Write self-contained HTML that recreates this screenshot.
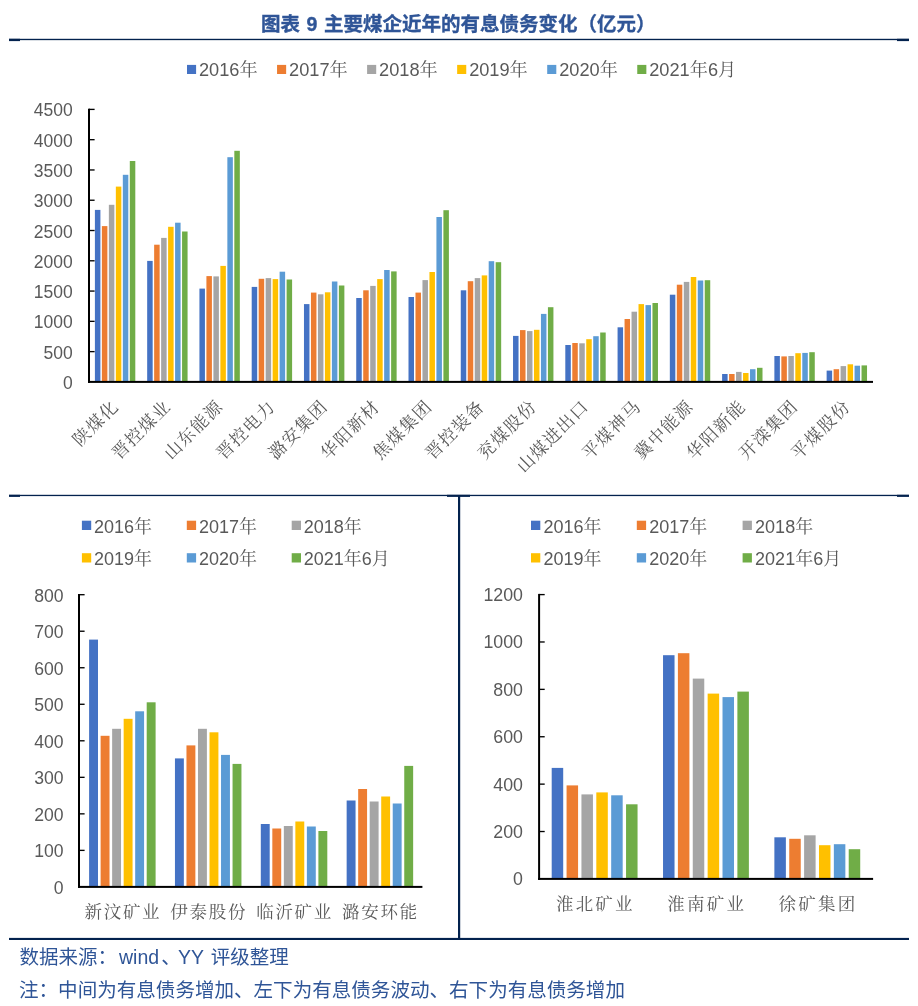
<!DOCTYPE html>
<html lang="zh-CN"><head><meta charset="utf-8"><title>图表 9</title>
<style>
html,body{margin:0;padding:0;background:#fff;}
body{width:918px;height:1006px;position:relative;overflow:hidden;font-family:'Liberation Sans','Noto Sans CJK SC',sans-serif;}
.t{position:absolute;white-space:nowrap;color:#2F5597;font-size:19.5px;line-height:24px;}
#title{left:261px;top:12px;font-weight:bold;-webkit-text-stroke:0.35px #2F5597;}
#title .n{display:inline-block;width:24px;text-align:center;}
#src{left:19.5px;top:945.4px;}
#note{left:19px;top:978.4px;font-size:19.56px;}
svg{position:absolute;left:0;top:0;}
</style></head><body>
<svg width="918" height="1006" viewBox="0 0 918 1006">
<rect x="9" y="38.8" width="900" height="1.35" fill="#03224E"/>
<rect x="9" y="38.8" width="11" height="2.3" fill="#03224E"/>
<rect x="897" y="38.8" width="12" height="2.3" fill="#03224E"/>
<rect x="9" y="494.8" width="900" height="1.3" fill="#03224E"/>
<rect x="447" y="494.8" width="23" height="2.1" fill="#03224E"/>
<rect x="9" y="494.8" width="11" height="2.1" fill="#03224E"/>
<rect x="897" y="494.8" width="12" height="2.1" fill="#03224E"/>
<rect x="458" y="495" width="2.2" height="444" fill="#03224E"/>
<rect x="9" y="937.9" width="900" height="2.1" fill="#03224E"/>
<rect x="94.90" y="209.90" width="5.50" height="172.00" fill="#4472C4"/>
<rect x="101.88" y="226.10" width="5.50" height="155.80" fill="#ED7D31"/>
<rect x="108.86" y="204.80" width="5.50" height="177.10" fill="#A5A5A5"/>
<rect x="115.84" y="186.60" width="5.50" height="195.30" fill="#FFC000"/>
<rect x="122.82" y="174.80" width="5.50" height="207.10" fill="#5B9BD5"/>
<rect x="129.80" y="161.00" width="5.50" height="220.90" fill="#70AD47"/>
<rect x="147.17" y="260.90" width="5.50" height="121.00" fill="#4472C4"/>
<rect x="154.15" y="244.70" width="5.50" height="137.20" fill="#ED7D31"/>
<rect x="161.13" y="237.90" width="5.50" height="144.00" fill="#A5A5A5"/>
<rect x="168.11" y="226.80" width="5.50" height="155.10" fill="#FFC000"/>
<rect x="175.09" y="222.70" width="5.50" height="159.20" fill="#5B9BD5"/>
<rect x="182.07" y="231.50" width="5.50" height="150.40" fill="#70AD47"/>
<rect x="199.43" y="288.60" width="5.50" height="93.30" fill="#4472C4"/>
<rect x="206.41" y="276.10" width="5.50" height="105.80" fill="#ED7D31"/>
<rect x="213.39" y="276.40" width="5.50" height="105.50" fill="#A5A5A5"/>
<rect x="220.37" y="265.90" width="5.50" height="116.00" fill="#FFC000"/>
<rect x="227.35" y="157.20" width="5.50" height="224.70" fill="#5B9BD5"/>
<rect x="234.33" y="150.80" width="5.50" height="231.10" fill="#70AD47"/>
<rect x="251.70" y="286.90" width="5.50" height="95.00" fill="#4472C4"/>
<rect x="258.68" y="278.80" width="5.50" height="103.10" fill="#ED7D31"/>
<rect x="265.66" y="278.10" width="5.50" height="103.80" fill="#A5A5A5"/>
<rect x="272.64" y="279.10" width="5.50" height="102.80" fill="#FFC000"/>
<rect x="279.62" y="271.70" width="5.50" height="110.20" fill="#5B9BD5"/>
<rect x="286.60" y="279.50" width="5.50" height="102.40" fill="#70AD47"/>
<rect x="303.97" y="304.10" width="5.50" height="77.80" fill="#4472C4"/>
<rect x="310.95" y="292.60" width="5.50" height="89.30" fill="#ED7D31"/>
<rect x="317.93" y="294.30" width="5.50" height="87.60" fill="#A5A5A5"/>
<rect x="324.91" y="292.30" width="5.50" height="89.60" fill="#FFC000"/>
<rect x="331.89" y="281.50" width="5.50" height="100.40" fill="#5B9BD5"/>
<rect x="338.87" y="285.50" width="5.50" height="96.40" fill="#70AD47"/>
<rect x="356.23" y="298.00" width="5.50" height="83.90" fill="#4472C4"/>
<rect x="363.21" y="290.30" width="5.50" height="91.60" fill="#ED7D31"/>
<rect x="370.19" y="285.90" width="5.50" height="96.00" fill="#A5A5A5"/>
<rect x="377.17" y="279.10" width="5.50" height="102.80" fill="#FFC000"/>
<rect x="384.15" y="270.00" width="5.50" height="111.90" fill="#5B9BD5"/>
<rect x="391.13" y="271.40" width="5.50" height="110.50" fill="#70AD47"/>
<rect x="408.50" y="297.00" width="5.50" height="84.90" fill="#4472C4"/>
<rect x="415.48" y="292.60" width="5.50" height="89.30" fill="#ED7D31"/>
<rect x="422.46" y="280.10" width="5.50" height="101.80" fill="#A5A5A5"/>
<rect x="429.44" y="272.00" width="5.50" height="109.90" fill="#FFC000"/>
<rect x="436.42" y="217.00" width="5.50" height="164.90" fill="#5B9BD5"/>
<rect x="443.40" y="210.20" width="5.50" height="171.70" fill="#70AD47"/>
<rect x="460.77" y="290.30" width="5.50" height="91.60" fill="#4472C4"/>
<rect x="467.75" y="281.20" width="5.50" height="100.70" fill="#ED7D31"/>
<rect x="474.73" y="278.10" width="5.50" height="103.80" fill="#A5A5A5"/>
<rect x="481.71" y="275.40" width="5.50" height="106.50" fill="#FFC000"/>
<rect x="488.69" y="261.20" width="5.50" height="120.70" fill="#5B9BD5"/>
<rect x="495.67" y="262.20" width="5.50" height="119.70" fill="#70AD47"/>
<rect x="513.03" y="335.90" width="5.50" height="46.00" fill="#4472C4"/>
<rect x="520.01" y="330.10" width="5.50" height="51.80" fill="#ED7D31"/>
<rect x="526.99" y="331.10" width="5.50" height="50.80" fill="#A5A5A5"/>
<rect x="533.97" y="329.80" width="5.50" height="52.10" fill="#FFC000"/>
<rect x="540.95" y="313.90" width="5.50" height="68.00" fill="#5B9BD5"/>
<rect x="547.93" y="307.20" width="5.50" height="74.70" fill="#70AD47"/>
<rect x="565.30" y="345.00" width="5.50" height="36.90" fill="#4472C4"/>
<rect x="572.28" y="343.00" width="5.50" height="38.90" fill="#ED7D31"/>
<rect x="579.26" y="343.30" width="5.50" height="38.60" fill="#A5A5A5"/>
<rect x="586.24" y="339.20" width="5.50" height="42.70" fill="#FFC000"/>
<rect x="593.22" y="336.20" width="5.50" height="45.70" fill="#5B9BD5"/>
<rect x="600.20" y="332.50" width="5.50" height="49.40" fill="#70AD47"/>
<rect x="617.57" y="327.30" width="5.50" height="54.60" fill="#4472C4"/>
<rect x="624.55" y="319.00" width="5.50" height="62.90" fill="#ED7D31"/>
<rect x="631.53" y="311.70" width="5.50" height="70.20" fill="#A5A5A5"/>
<rect x="638.51" y="304.10" width="5.50" height="77.80" fill="#FFC000"/>
<rect x="645.49" y="305.10" width="5.50" height="76.80" fill="#5B9BD5"/>
<rect x="652.47" y="303.00" width="5.50" height="78.90" fill="#70AD47"/>
<rect x="669.83" y="294.70" width="5.50" height="87.20" fill="#4472C4"/>
<rect x="676.81" y="284.70" width="5.50" height="97.20" fill="#ED7D31"/>
<rect x="683.79" y="281.90" width="5.50" height="100.00" fill="#A5A5A5"/>
<rect x="690.77" y="277.00" width="5.50" height="104.90" fill="#FFC000"/>
<rect x="697.75" y="280.50" width="5.50" height="101.40" fill="#5B9BD5"/>
<rect x="704.73" y="280.20" width="5.50" height="101.70" fill="#70AD47"/>
<rect x="722.10" y="374.00" width="5.50" height="7.90" fill="#4472C4"/>
<rect x="729.08" y="374.00" width="5.50" height="7.90" fill="#ED7D31"/>
<rect x="736.06" y="371.90" width="5.50" height="10.00" fill="#A5A5A5"/>
<rect x="743.04" y="373.00" width="5.50" height="8.90" fill="#FFC000"/>
<rect x="750.02" y="369.20" width="5.50" height="12.70" fill="#5B9BD5"/>
<rect x="757.00" y="367.80" width="5.50" height="14.10" fill="#70AD47"/>
<rect x="774.37" y="356.00" width="5.50" height="25.90" fill="#4472C4"/>
<rect x="781.35" y="356.40" width="5.50" height="25.50" fill="#ED7D31"/>
<rect x="788.33" y="356.00" width="5.50" height="25.90" fill="#A5A5A5"/>
<rect x="795.31" y="353.20" width="5.50" height="28.70" fill="#FFC000"/>
<rect x="802.29" y="352.90" width="5.50" height="29.00" fill="#5B9BD5"/>
<rect x="809.27" y="352.20" width="5.50" height="29.70" fill="#70AD47"/>
<rect x="826.63" y="370.60" width="5.50" height="11.30" fill="#4472C4"/>
<rect x="833.61" y="369.20" width="5.50" height="12.70" fill="#ED7D31"/>
<rect x="840.59" y="366.10" width="5.50" height="15.80" fill="#A5A5A5"/>
<rect x="847.57" y="364.30" width="5.50" height="17.60" fill="#FFC000"/>
<rect x="854.55" y="365.70" width="5.50" height="16.20" fill="#5B9BD5"/>
<rect x="861.53" y="365.40" width="5.50" height="16.50" fill="#70AD47"/>
<rect x="88.00" y="108.70" width="2.00" height="274.20" fill="#000"/>
<rect x="88.00" y="380.90" width="785.00" height="2.00" fill="#000"/>
<text x="72.80" y="388.96" font-size="17.5" text-anchor="end" font-family="'Liberation Sans',sans-serif" fill="#595959" >0</text>
<rect x="89.00" y="350.95" width="5.60" height="1.34" fill="#000"/>
<text x="72.80" y="358.69" font-size="17.5" text-anchor="end" font-family="'Liberation Sans',sans-serif" fill="#595959" >500</text>
<rect x="89.00" y="320.67" width="5.60" height="1.34" fill="#000"/>
<text x="72.80" y="328.41" font-size="17.5" text-anchor="end" font-family="'Liberation Sans',sans-serif" fill="#595959" >1000</text>
<rect x="89.00" y="290.40" width="5.60" height="1.34" fill="#000"/>
<text x="72.80" y="298.13" font-size="17.5" text-anchor="end" font-family="'Liberation Sans',sans-serif" fill="#595959" >1500</text>
<rect x="89.00" y="260.12" width="5.60" height="1.34" fill="#000"/>
<text x="72.80" y="267.85" font-size="17.5" text-anchor="end" font-family="'Liberation Sans',sans-serif" fill="#595959" >2000</text>
<rect x="89.00" y="229.84" width="5.60" height="1.34" fill="#000"/>
<text x="72.80" y="237.58" font-size="17.5" text-anchor="end" font-family="'Liberation Sans',sans-serif" fill="#595959" >2500</text>
<rect x="89.00" y="199.56" width="5.60" height="1.34" fill="#000"/>
<text x="72.80" y="207.30" font-size="17.5" text-anchor="end" font-family="'Liberation Sans',sans-serif" fill="#595959" >3000</text>
<rect x="89.00" y="169.29" width="5.60" height="1.34" fill="#000"/>
<text x="72.80" y="177.02" font-size="17.5" text-anchor="end" font-family="'Liberation Sans',sans-serif" fill="#595959" >3500</text>
<rect x="89.00" y="139.01" width="5.60" height="1.34" fill="#000"/>
<text x="72.80" y="146.74" font-size="17.5" text-anchor="end" font-family="'Liberation Sans',sans-serif" fill="#595959" >4000</text>
<rect x="89.00" y="108.73" width="5.60" height="1.34" fill="#000"/>
<text x="72.80" y="116.46" font-size="17.5" text-anchor="end" font-family="'Liberation Sans',sans-serif" fill="#595959" >4500</text>
<text transform="translate(119.63,407.50) rotate(-45)" font-size="17.5" text-anchor="end" font-family="'Liberation Serif','Noto Serif CJK SC',serif" fill="#595959" letter-spacing="1.2">陕煤化</text>
<text transform="translate(171.90,407.50) rotate(-45)" font-size="17.5" text-anchor="end" font-family="'Liberation Serif','Noto Serif CJK SC',serif" fill="#595959" letter-spacing="1.2">晋控煤业</text>
<text transform="translate(224.17,407.50) rotate(-45)" font-size="17.5" text-anchor="end" font-family="'Liberation Serif','Noto Serif CJK SC',serif" fill="#595959" letter-spacing="1.2">山东能源</text>
<text transform="translate(276.43,407.50) rotate(-45)" font-size="17.5" text-anchor="end" font-family="'Liberation Serif','Noto Serif CJK SC',serif" fill="#595959" letter-spacing="1.2">晋控电力</text>
<text transform="translate(328.70,407.50) rotate(-45)" font-size="17.5" text-anchor="end" font-family="'Liberation Serif','Noto Serif CJK SC',serif" fill="#595959" letter-spacing="1.2">潞安集团</text>
<text transform="translate(380.97,407.50) rotate(-45)" font-size="17.5" text-anchor="end" font-family="'Liberation Serif','Noto Serif CJK SC',serif" fill="#595959" letter-spacing="1.2">华阳新材</text>
<text transform="translate(433.23,407.50) rotate(-45)" font-size="17.5" text-anchor="end" font-family="'Liberation Serif','Noto Serif CJK SC',serif" fill="#595959" letter-spacing="1.2">焦煤集团</text>
<text transform="translate(485.50,407.50) rotate(-45)" font-size="17.5" text-anchor="end" font-family="'Liberation Serif','Noto Serif CJK SC',serif" fill="#595959" letter-spacing="1.2">晋控装备</text>
<text transform="translate(537.77,407.50) rotate(-45)" font-size="17.5" text-anchor="end" font-family="'Liberation Serif','Noto Serif CJK SC',serif" fill="#595959" letter-spacing="1.2">兖煤股份</text>
<text transform="translate(590.03,407.50) rotate(-45)" font-size="17.5" text-anchor="end" font-family="'Liberation Serif','Noto Serif CJK SC',serif" fill="#595959" letter-spacing="1.2">山煤进出口</text>
<text transform="translate(642.30,407.50) rotate(-45)" font-size="17.5" text-anchor="end" font-family="'Liberation Serif','Noto Serif CJK SC',serif" fill="#595959" letter-spacing="1.2">平煤神马</text>
<text transform="translate(694.57,407.50) rotate(-45)" font-size="17.5" text-anchor="end" font-family="'Liberation Serif','Noto Serif CJK SC',serif" fill="#595959" letter-spacing="1.2">冀中能源</text>
<text transform="translate(746.83,407.50) rotate(-45)" font-size="17.5" text-anchor="end" font-family="'Liberation Serif','Noto Serif CJK SC',serif" fill="#595959" letter-spacing="1.2">华阳新能</text>
<text transform="translate(799.10,407.50) rotate(-45)" font-size="17.5" text-anchor="end" font-family="'Liberation Serif','Noto Serif CJK SC',serif" fill="#595959" letter-spacing="1.2">开滦集团</text>
<text transform="translate(851.37,407.50) rotate(-45)" font-size="17.5" text-anchor="end" font-family="'Liberation Serif','Noto Serif CJK SC',serif" fill="#595959" letter-spacing="1.2">平煤股份</text>
<rect x="187.00" y="64.90" width="9.10" height="9.10" fill="#4472C4"/>
<text x="199.00" y="75.80" font-size="18.2" text-anchor="start" font-family="'Liberation Sans','Noto Serif CJK SC',sans-serif" fill="#595959" >2016年</text>
<rect x="277.05" y="64.90" width="9.10" height="9.10" fill="#ED7D31"/>
<text x="289.05" y="75.80" font-size="18.2" text-anchor="start" font-family="'Liberation Sans','Noto Serif CJK SC',sans-serif" fill="#595959" >2017年</text>
<rect x="367.10" y="64.90" width="9.10" height="9.10" fill="#A5A5A5"/>
<text x="379.10" y="75.80" font-size="18.2" text-anchor="start" font-family="'Liberation Sans','Noto Serif CJK SC',sans-serif" fill="#595959" >2018年</text>
<rect x="457.15" y="64.90" width="9.10" height="9.10" fill="#FFC000"/>
<text x="469.15" y="75.80" font-size="18.2" text-anchor="start" font-family="'Liberation Sans','Noto Serif CJK SC',sans-serif" fill="#595959" >2019年</text>
<rect x="547.20" y="64.90" width="9.10" height="9.10" fill="#5B9BD5"/>
<text x="559.20" y="75.80" font-size="18.2" text-anchor="start" font-family="'Liberation Sans','Noto Serif CJK SC',sans-serif" fill="#595959" >2020年</text>
<rect x="637.25" y="64.90" width="9.10" height="9.10" fill="#70AD47"/>
<text x="649.25" y="75.80" font-size="18.2" text-anchor="start" font-family="'Liberation Sans','Noto Serif CJK SC',sans-serif" fill="#595959" >2021年6月</text>
<rect x="89.10" y="639.60" width="8.90" height="247.30" fill="#4472C4"/>
<rect x="100.62" y="735.80" width="8.90" height="151.10" fill="#ED7D31"/>
<rect x="112.14" y="728.80" width="8.90" height="158.10" fill="#A5A5A5"/>
<rect x="123.66" y="718.80" width="8.90" height="168.10" fill="#FFC000"/>
<rect x="135.18" y="711.30" width="8.90" height="175.60" fill="#5B9BD5"/>
<rect x="146.70" y="702.30" width="8.90" height="184.60" fill="#70AD47"/>
<rect x="174.95" y="758.40" width="8.90" height="128.50" fill="#4472C4"/>
<rect x="186.47" y="745.40" width="8.90" height="141.50" fill="#ED7D31"/>
<rect x="197.99" y="728.80" width="8.90" height="158.10" fill="#A5A5A5"/>
<rect x="209.51" y="732.30" width="8.90" height="154.60" fill="#FFC000"/>
<rect x="221.03" y="754.90" width="8.90" height="132.00" fill="#5B9BD5"/>
<rect x="232.55" y="763.90" width="8.90" height="123.00" fill="#70AD47"/>
<rect x="260.80" y="824.00" width="8.90" height="62.90" fill="#4472C4"/>
<rect x="272.32" y="828.50" width="8.90" height="58.40" fill="#ED7D31"/>
<rect x="283.84" y="826.00" width="8.90" height="60.90" fill="#A5A5A5"/>
<rect x="295.36" y="821.50" width="8.90" height="65.40" fill="#FFC000"/>
<rect x="306.88" y="826.50" width="8.90" height="60.40" fill="#5B9BD5"/>
<rect x="318.40" y="831.00" width="8.90" height="55.90" fill="#70AD47"/>
<rect x="346.65" y="800.50" width="8.90" height="86.40" fill="#4472C4"/>
<rect x="358.17" y="789.00" width="8.90" height="97.90" fill="#ED7D31"/>
<rect x="369.69" y="801.50" width="8.90" height="85.40" fill="#A5A5A5"/>
<rect x="381.21" y="796.50" width="8.90" height="90.40" fill="#FFC000"/>
<rect x="392.73" y="803.50" width="8.90" height="83.40" fill="#5B9BD5"/>
<rect x="404.25" y="765.90" width="8.90" height="121.00" fill="#70AD47"/>
<rect x="78.00" y="594.00" width="2.00" height="293.90" fill="#000"/>
<rect x="78.00" y="885.90" width="344.40" height="2.00" fill="#000"/>
<text x="63.60" y="893.80" font-size="17.6" text-anchor="end" font-family="'Liberation Sans',sans-serif" fill="#595959" >0</text>
<rect x="79.00" y="849.71" width="5.60" height="1.34" fill="#000"/>
<text x="63.60" y="857.28" font-size="17.6" text-anchor="end" font-family="'Liberation Sans',sans-serif" fill="#595959" >100</text>
<rect x="79.00" y="813.18" width="5.60" height="1.34" fill="#000"/>
<text x="63.60" y="820.75" font-size="17.6" text-anchor="end" font-family="'Liberation Sans',sans-serif" fill="#595959" >200</text>
<rect x="79.00" y="776.66" width="5.60" height="1.34" fill="#000"/>
<text x="63.60" y="784.23" font-size="17.6" text-anchor="end" font-family="'Liberation Sans',sans-serif" fill="#595959" >300</text>
<rect x="79.00" y="740.13" width="5.60" height="1.34" fill="#000"/>
<text x="63.60" y="747.70" font-size="17.6" text-anchor="end" font-family="'Liberation Sans',sans-serif" fill="#595959" >400</text>
<rect x="79.00" y="703.61" width="5.60" height="1.34" fill="#000"/>
<text x="63.60" y="711.18" font-size="17.6" text-anchor="end" font-family="'Liberation Sans',sans-serif" fill="#595959" >500</text>
<rect x="79.00" y="667.08" width="5.60" height="1.34" fill="#000"/>
<text x="63.60" y="674.65" font-size="17.6" text-anchor="end" font-family="'Liberation Sans',sans-serif" fill="#595959" >600</text>
<rect x="79.00" y="630.56" width="5.60" height="1.34" fill="#000"/>
<text x="63.60" y="638.13" font-size="17.6" text-anchor="end" font-family="'Liberation Sans',sans-serif" fill="#595959" >700</text>
<rect x="79.00" y="594.03" width="5.60" height="1.34" fill="#000"/>
<text x="63.60" y="601.60" font-size="17.6" text-anchor="end" font-family="'Liberation Sans',sans-serif" fill="#595959" >800</text>
<text x="122.92" y="917.50" font-size="17.5" text-anchor="middle" font-family="'Liberation Serif','Noto Serif CJK SC',serif" fill="#595959" letter-spacing="1.7">新汶矿业</text>
<text x="208.77" y="917.50" font-size="17.5" text-anchor="middle" font-family="'Liberation Serif','Noto Serif CJK SC',serif" fill="#595959" letter-spacing="1.7">伊泰股份</text>
<text x="294.62" y="917.50" font-size="17.5" text-anchor="middle" font-family="'Liberation Serif','Noto Serif CJK SC',serif" fill="#595959" letter-spacing="1.7">临沂矿业</text>
<text x="380.47" y="917.50" font-size="17.5" text-anchor="middle" font-family="'Liberation Serif','Noto Serif CJK SC',serif" fill="#595959" letter-spacing="1.7">潞安环能</text>
<rect x="81.90" y="520.70" width="9.30" height="9.30" fill="#4472C4"/>
<text x="94.00" y="532.50" font-size="18" text-anchor="start" font-family="'Liberation Sans','Noto Serif CJK SC',sans-serif" fill="#595959" >2016年</text>
<rect x="186.80" y="520.70" width="9.30" height="9.30" fill="#ED7D31"/>
<text x="198.90" y="532.50" font-size="18" text-anchor="start" font-family="'Liberation Sans','Noto Serif CJK SC',sans-serif" fill="#595959" >2017年</text>
<rect x="291.70" y="520.70" width="9.30" height="9.30" fill="#A5A5A5"/>
<text x="303.80" y="532.50" font-size="18" text-anchor="start" font-family="'Liberation Sans','Noto Serif CJK SC',sans-serif" fill="#595959" >2018年</text>
<rect x="81.90" y="553.20" width="9.30" height="9.30" fill="#FFC000"/>
<text x="94.00" y="565.00" font-size="18" text-anchor="start" font-family="'Liberation Sans','Noto Serif CJK SC',sans-serif" fill="#595959" >2019年</text>
<rect x="186.80" y="553.20" width="9.30" height="9.30" fill="#5B9BD5"/>
<text x="198.90" y="565.00" font-size="18" text-anchor="start" font-family="'Liberation Sans','Noto Serif CJK SC',sans-serif" fill="#595959" >2020年</text>
<rect x="291.70" y="553.20" width="9.30" height="9.30" fill="#70AD47"/>
<text x="303.80" y="565.00" font-size="18" text-anchor="start" font-family="'Liberation Sans','Noto Serif CJK SC',sans-serif" fill="#595959" >2021年6月</text>
<rect x="551.70" y="767.90" width="11.50" height="111.00" fill="#4472C4"/>
<rect x="566.57" y="785.40" width="11.50" height="93.50" fill="#ED7D31"/>
<rect x="581.44" y="794.40" width="11.50" height="84.50" fill="#A5A5A5"/>
<rect x="596.31" y="792.40" width="11.50" height="86.50" fill="#FFC000"/>
<rect x="611.18" y="795.30" width="11.50" height="83.60" fill="#5B9BD5"/>
<rect x="626.05" y="804.30" width="11.50" height="74.60" fill="#70AD47"/>
<rect x="663.03" y="655.20" width="11.50" height="223.70" fill="#4472C4"/>
<rect x="677.90" y="653.20" width="11.50" height="225.70" fill="#ED7D31"/>
<rect x="692.77" y="678.60" width="11.50" height="200.30" fill="#A5A5A5"/>
<rect x="707.64" y="693.60" width="11.50" height="185.30" fill="#FFC000"/>
<rect x="722.51" y="697.10" width="11.50" height="181.80" fill="#5B9BD5"/>
<rect x="737.38" y="691.60" width="11.50" height="187.30" fill="#70AD47"/>
<rect x="774.37" y="837.30" width="11.50" height="41.60" fill="#4472C4"/>
<rect x="789.24" y="838.80" width="11.50" height="40.10" fill="#ED7D31"/>
<rect x="804.11" y="835.30" width="11.50" height="43.60" fill="#A5A5A5"/>
<rect x="818.98" y="845.20" width="11.50" height="33.70" fill="#FFC000"/>
<rect x="833.85" y="844.20" width="11.50" height="34.70" fill="#5B9BD5"/>
<rect x="848.72" y="849.20" width="11.50" height="29.70" fill="#70AD47"/>
<rect x="538.10" y="593.90" width="2.00" height="286.00" fill="#000"/>
<rect x="538.10" y="877.90" width="335.00" height="2.00" fill="#000"/>
<text x="523.00" y="885.27" font-size="17.8" text-anchor="end" font-family="'Liberation Sans',sans-serif" fill="#595959" >0</text>
<rect x="539.10" y="830.85" width="5.60" height="1.34" fill="#000"/>
<text x="523.00" y="837.89" font-size="17.8" text-anchor="end" font-family="'Liberation Sans',sans-serif" fill="#595959" >200</text>
<rect x="539.10" y="783.46" width="5.60" height="1.34" fill="#000"/>
<text x="523.00" y="790.51" font-size="17.8" text-anchor="end" font-family="'Liberation Sans',sans-serif" fill="#595959" >400</text>
<rect x="539.10" y="736.08" width="5.60" height="1.34" fill="#000"/>
<text x="523.00" y="743.12" font-size="17.8" text-anchor="end" font-family="'Liberation Sans',sans-serif" fill="#595959" >600</text>
<rect x="539.10" y="688.70" width="5.60" height="1.34" fill="#000"/>
<text x="523.00" y="695.74" font-size="17.8" text-anchor="end" font-family="'Liberation Sans',sans-serif" fill="#595959" >800</text>
<rect x="539.10" y="641.31" width="5.60" height="1.34" fill="#000"/>
<text x="523.00" y="648.36" font-size="17.8" text-anchor="end" font-family="'Liberation Sans',sans-serif" fill="#595959" >1000</text>
<rect x="539.10" y="593.93" width="5.60" height="1.34" fill="#000"/>
<text x="523.00" y="600.97" font-size="17.8" text-anchor="end" font-family="'Liberation Sans',sans-serif" fill="#595959" >1200</text>
<text x="595.37" y="909.50" font-size="17.5" text-anchor="middle" font-family="'Liberation Serif','Noto Serif CJK SC',serif" fill="#595959" letter-spacing="2.2">淮北矿业</text>
<text x="706.70" y="909.50" font-size="17.5" text-anchor="middle" font-family="'Liberation Serif','Noto Serif CJK SC',serif" fill="#595959" letter-spacing="2.2">淮南矿业</text>
<text x="818.03" y="909.50" font-size="17.5" text-anchor="middle" font-family="'Liberation Serif','Noto Serif CJK SC',serif" fill="#595959" letter-spacing="2.2">徐矿集团</text>
<rect x="531.00" y="520.70" width="9.30" height="9.30" fill="#4472C4"/>
<text x="543.50" y="532.50" font-size="18" text-anchor="start" font-family="'Liberation Sans','Noto Serif CJK SC',sans-serif" fill="#595959" >2016年</text>
<rect x="636.80" y="520.70" width="9.30" height="9.30" fill="#ED7D31"/>
<text x="649.30" y="532.50" font-size="18" text-anchor="start" font-family="'Liberation Sans','Noto Serif CJK SC',sans-serif" fill="#595959" >2017年</text>
<rect x="742.60" y="520.70" width="9.30" height="9.30" fill="#A5A5A5"/>
<text x="755.10" y="532.50" font-size="18" text-anchor="start" font-family="'Liberation Sans','Noto Serif CJK SC',sans-serif" fill="#595959" >2018年</text>
<rect x="531.00" y="553.20" width="9.30" height="9.30" fill="#FFC000"/>
<text x="543.50" y="565.00" font-size="18" text-anchor="start" font-family="'Liberation Sans','Noto Serif CJK SC',sans-serif" fill="#595959" >2019年</text>
<rect x="636.80" y="553.20" width="9.30" height="9.30" fill="#5B9BD5"/>
<text x="649.30" y="565.00" font-size="18" text-anchor="start" font-family="'Liberation Sans','Noto Serif CJK SC',sans-serif" fill="#595959" >2020年</text>
<rect x="742.60" y="553.20" width="9.30" height="9.30" fill="#70AD47"/>
<text x="755.10" y="565.00" font-size="18" text-anchor="start" font-family="'Liberation Sans','Noto Serif CJK SC',sans-serif" fill="#595959" >2021年6月</text>
</svg>
<div class="t" id="title">图表<span class="n"> 9 </span>主要煤企近年的有息债务变化（亿元）</div>
<div class="t" id="src">数据来源：<span style="margin-left:2px">wind</span><span style="margin-left:2px">、</span><span style="margin-left:-2.7px">YY</span> <span style="margin-left:1.8px">评级整理</span></div>
<div class="t" id="note">注：中间为有息债务增加、左下为有息债务波动、右下为有息债务增加</div>
</body></html>
